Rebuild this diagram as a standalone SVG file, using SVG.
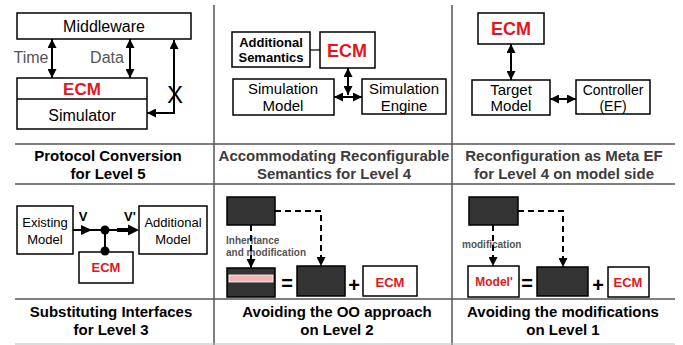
<svg xmlns="http://www.w3.org/2000/svg" width="683" height="345" viewBox="0 0 683 345">
  <defs>
    <style>
      .box { fill: #fff; stroke: #000; stroke-width: 1.5; }
      .dark { fill: #333; stroke: #000; stroke-width: 1.5; }
      .grid { stroke: #555; stroke-width: 1.5; fill: none; }
      .line { stroke: #000; stroke-width: 2; fill: none; }
      .dash { stroke: #000; stroke-width: 2; fill: none; stroke-dasharray: 6 4; }
      .t { font-family: "Liberation Sans", Arial, sans-serif; fill: #000; text-anchor: middle; }
      .b { font-weight: bold; }
      .red { fill: #e8141b; font-weight: bold; }
      .gray { fill: #555; }
      .title { font-family: "Liberation Sans", Arial, sans-serif; font-weight: bold; font-size: 15px; text-anchor: middle; fill: #000; }
      .title.soft { fill: #3c3c3c; }
    </style>
    <marker id="arrow" viewBox="0 0 10 10" refX="10" refY="5" markerWidth="9" markerHeight="9" markerUnits="userSpaceOnUse" orient="auto-start-reverse">
      <path d="M0,0 L10,5 L0,10 z" fill="#000"/>
    </marker>
  </defs>

  <!-- table grid -->
  <g id="grid">
    <line class="grid" x1="214" y1="5" x2="214" y2="345"/>
    <line class="grid" x1="452" y1="5" x2="452" y2="345"/>
    <line class="grid" x1="15" y1="144" x2="675" y2="144"/>
    <line class="grid" x1="15" y1="184" x2="675" y2="184"/>
    <line class="grid" x1="15" y1="299" x2="675" y2="299"/>
    <line x1="15" y1="344" x2="675" y2="344" stroke="#bbb" stroke-width="1"/>
  </g>

  <!-- cell 1: protocol conversion -->
  <g id="middleware">
    <rect class="box" x="17" y="13" width="174" height="26"/>
    <text class="t" x="104" y="32" font-size="16">Middleware</text>
  </g>
  <g id="ecm-simulator">
    <rect class="box" x="17" y="78" width="130" height="51"/>
    <line x1="17" y1="99" x2="147" y2="99" stroke="#000" stroke-width="1.5"/>
    <text class="t red" x="82" y="95" font-size="17">ECM</text>
    <text class="t" x="82" y="121" font-size="16">Simulator</text>
  </g>
  <g id="labels-1">
    <text class="t gray" x="31" y="63" font-size="16">Time</text>
    <text class="t gray" x="107" y="63" font-size="16">Data</text>
    <text class="t" x="175" y="103" font-size="24">X</text>
  </g>

  <!-- cell 2: reconfigurable semantics -->
  <g id="additional-semantics">
    <rect class="box" x="232" y="32" width="78" height="35"/>
    <text class="t b" x="271" y="47" font-size="13">Additional</text>
    <text class="t b" x="271" y="62" font-size="13">Semantics</text>
  </g>
  <g id="ecm-2">
    <rect class="box" x="320" y="32" width="55" height="36"/>
    <text class="t red" x="347" y="57" font-size="18">ECM</text>
  </g>
  <g id="simulation-model">
    <rect class="box" x="233" y="79" width="101" height="36"/>
    <text class="t" x="283" y="94" font-size="15">Simulation</text>
    <text class="t" x="283" y="111" font-size="15">Model</text>
  </g>
  <g id="simulation-engine">
    <rect class="box" x="362" y="79" width="84" height="35"/>
    <text class="t" x="404" y="94" font-size="15">Simulation</text>
    <text class="t" x="404" y="111" font-size="15">Engine</text>
  </g>

  <!-- cell 3: meta EF -->
  <g id="ecm-3">
    <rect class="box" x="478" y="13" width="66" height="31"/>
    <text class="t red" x="511" y="35" font-size="18">ECM</text>
  </g>
  <g id="target-model">
    <rect class="box" x="472" y="80" width="78" height="35"/>
    <text class="t" x="511" y="95" font-size="15">Target</text>
    <text class="t" x="511" y="111" font-size="15">Model</text>
  </g>
  <g id="controller">
    <rect class="box" x="576" y="80" width="74" height="34"/>
    <text class="t" x="613" y="95" font-size="14">Controller</text>
    <text class="t" x="613" y="111" font-size="14">(EF)</text>
  </g>

  <!-- titles -->
  <g id="titles">
    <text class="title" x="108" y="161">Protocol Conversion</text>
    <text class="title" x="108" y="179">for Level 5</text>
    <text class="title soft" x="334" y="161">Accommodating Reconfigurable</text>
    <text class="title soft" x="334" y="179">Semantics for Level 4</text>
    <text class="title soft" x="564" y="161">Reconfiguration as Meta EF</text>
    <text class="title soft" x="564" y="179">for Level 4 on model side</text>
    <text class="title" x="111" y="317">Substituting Interfaces</text>
    <text class="title" x="111" y="335">for Level 3</text>
    <text class="title" x="337" y="317">Avoiding the OO approach</text>
    <text class="title" x="337" y="335">on Level 2</text>
    <text class="title" x="563" y="317">Avoiding the modifications</text>
    <text class="title" x="563" y="335">on Level 1</text>
  </g>

  <!-- cell 4: substituting interfaces -->
  <g id="existing-model">
    <rect class="box" x="17" y="206" width="56" height="48"/>
    <text class="t" x="45" y="227" font-size="13">Existing</text>
    <text class="t" x="45" y="244" font-size="13">Model</text>
  </g>
  <g id="additional-model">
    <rect class="box" x="139" y="206" width="68" height="48"/>
    <text class="t" x="173" y="227" font-size="13">Additional</text>
    <text class="t" x="173" y="244" font-size="13">Model</text>
  </g>
  <g id="ecm-4">
    <rect class="box" x="79" y="252" width="54" height="31"/>
    <text class="t red" x="106" y="272" font-size="13">ECM</text>
  </g>
  <g id="labels-4">
    <text class="t b" x="83" y="221" font-size="13">V</text>
    <text class="t b" x="130" y="221" font-size="13">V'</text>
  </g>

  <!-- cell 5: OO approach -->
  <g id="base-2">
    <rect class="dark" x="227" y="197" width="48" height="28"/>
  </g>
  <g id="derived-2">
    <rect class="dark" x="227" y="268" width="48" height="29"/>
    <rect x="229" y="275" width="44" height="7" fill="#f3b4b6" stroke="#fff" stroke-width="0.8"/>
  </g>
  <g id="model-2">
    <rect class="dark" x="297" y="266" width="48" height="30"/>
  </g>
  <g id="ecm-5">
    <rect class="box" x="363" y="266" width="54" height="30"/>
    <text class="t red" x="390" y="287" font-size="13">ECM</text>
  </g>
  <g id="labels-5">
    <text class="t gray b" x="226" y="244" font-size="10" text-anchor="start" style="text-anchor:start">Inheritance</text>
    <text class="t gray b" x="226" y="256" font-size="10" style="text-anchor:start">and modification</text>
    <text class="t b" x="287" y="290" font-size="20">=</text>
    <text class="t b" x="354" y="292" font-size="20">+</text>
  </g>

  <!-- cell 6: modifications -->
  <g id="base-3">
    <rect class="dark" x="469" y="197" width="49" height="28"/>
  </g>
  <g id="model-prime">
    <rect class="box" x="468" y="266" width="51" height="31"/>
    <text class="t red" x="494" y="286" font-size="12">Model'</text>
  </g>
  <g id="model-3">
    <rect class="dark" x="537" y="267" width="51" height="29"/>
  </g>
  <g id="ecm-6">
    <rect class="box" x="608" y="267" width="41" height="30"/>
    <text class="t red" x="628" y="287" font-size="13">ECM</text>
  </g>
  <g id="labels-6">
    <text class="t gray b" x="462" y="248" font-size="10" style="text-anchor:start">modification</text>
    <text class="t b" x="527" y="290" font-size="20">=</text>
    <text class="t b" x="598" y="292" font-size="20">+</text>
  </g>

  <!-- connectors -->
  <g id="connectors">
    <!-- cell 1 -->
    <line class="line" x1="52" y1="39" x2="52" y2="78" marker-start="url(#arrow)" marker-end="url(#arrow)"/>
    <line class="line" x1="130" y1="39" x2="130" y2="78" marker-start="url(#arrow)" marker-end="url(#arrow)"/>
    <polyline class="line" points="147,113 174,113 174,40" marker-start="url(#arrow)" marker-end="url(#arrow)"/>
    <!-- cell 2 -->
    <line x1="310" y1="50" x2="320" y2="50" stroke="#000" stroke-width="1.2"/>
    <line class="line" x1="348" y1="68" x2="348" y2="95" marker-start="url(#arrow)" marker-end="url(#arrow)"/>
    <line class="line" x1="334" y1="97" x2="362" y2="97" marker-start="url(#arrow)" marker-end="url(#arrow)"/>
    <!-- cell 3 -->
    <line class="line" x1="511" y1="44" x2="511" y2="80" marker-start="url(#arrow)" marker-end="url(#arrow)"/>
    <line class="line" x1="550" y1="99" x2="576" y2="99" marker-start="url(#arrow)" marker-end="url(#arrow)"/>
    <!-- cell 4 -->
    <line class="line" x1="73" y1="230" x2="130" y2="230"/>
    <path d="M81,225 L92,230 L81,235 z" fill="#000"/>
    <line x1="117" y1="230" x2="129" y2="230" stroke="#000" stroke-width="4"/>
    <path d="M128,224.5 L139,230 L128,235.5 z" fill="#000"/>
    <line class="line" x1="105" y1="230" x2="105" y2="252"/>
    <circle cx="105" cy="230" r="4.5" fill="#000"/>
    <circle cx="105" cy="251" r="4.5" fill="#000"/>
    <!-- cell 5 -->
    <line class="dash" x1="251" y1="225" x2="251" y2="268" marker-end="url(#arrow)"/>
    <polyline class="dash" points="275,211 321,211 321,266" marker-end="url(#arrow)"/>
    <!-- cell 6 -->
    <line class="dash" x1="493" y1="225" x2="493" y2="266" marker-end="url(#arrow)"/>
    <polyline class="dash" points="518,211 563,211 563,267" marker-end="url(#arrow)"/>
  </g>
</svg>
